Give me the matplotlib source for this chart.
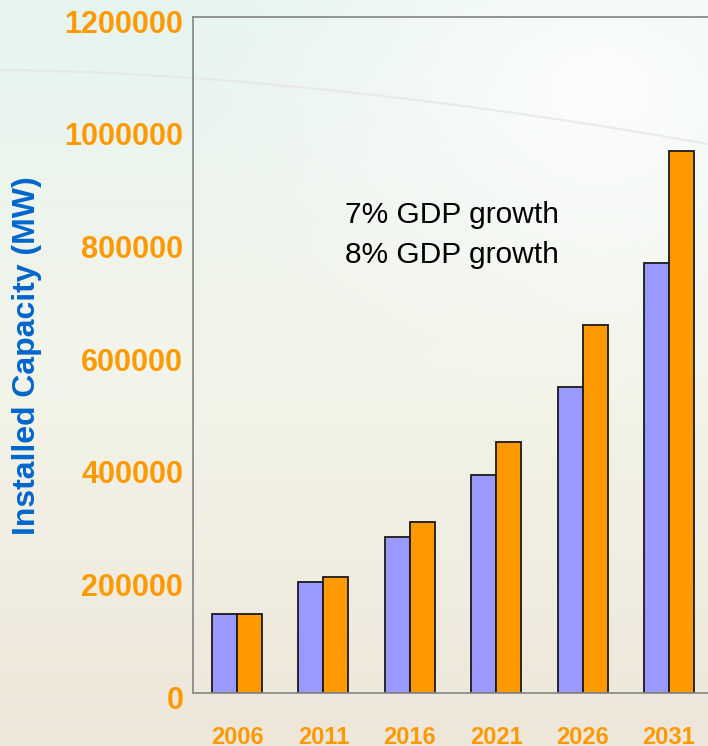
import numpy as np
import matplotlib
matplotlib.use('Agg')
import matplotlib.pyplot as plt
import matplotlib.transforms as mtransforms

# Data
years = ['2006', '2011', '2016', '2021', '2026', '2031']
gdp7 = [140000, 197000, 277000, 387000, 543000, 764000]  # MW, 7% GDP growth
gdp8 = [140000, 206000, 303000, 446000, 654000, 963000]  # MW, 8% GDP growth
series_labels = ['7% GDP growth', '8% GDP growth']
yticks = [0, 200000, 400000, 600000, 800000, 1000000, 1200000]

W, H = 708, 746
plt.rcParams['font.family'] = ['Liberation Sans', 'DejaVu Sans']
fig = plt.figure(figsize=(W/100, H/100), dpi=100)

# Background (soft gradient with a white glow, like the slide)
yy, xx = np.mgrid[0:H, 0:W]
t = yy/(H-1)
top = np.array([230, 244, 241])/255
mid = np.array([243, 244, 233])/255
bot = np.array([238, 230, 217])/255
w1 = np.clip(1-2*t, 0, 1)[..., None]
w3 = np.clip(2*t-1, 0, 1)[..., None]
w2 = 1-w1-w3
img = w1*top + w2*mid + w3*bot
d = np.sqrt(((xx-600)/420.0)**2 + ((yy-90)/330.0)**2)
glow = (np.clip(1-d, 0, 1)**1.2)[..., None]*0.85
img = img*(1-glow) + glow
bg = fig.add_axes([0, 0, 1, 1], zorder=-1)
bg.imshow(img, aspect='auto', extent=[0, W, H, 0])
sx = np.linspace(0, W, 200)
sy = 70 + 74*(sx/W)**1.7
bg.plot(sx, sy, color=(0.90, 0.89, 0.88), lw=1.5, alpha=0.7)
bg.set_xlim(0, W)
bg.set_ylim(H, 0)
bg.axis('off')

# Main axes
left, right, bottom, topp = 193, 730, 693, 17
ax = fig.add_axes([left/W, 1-bottom/H, (right-left)/W, (bottom-topp)/H])
ax.set_facecolor('none')
x = np.arange(len(years))
bw = 0.29
ax.bar(x-bw/2, gdp7, bw, color='#9999FF', edgecolor='#1a1a1a', linewidth=1.3, label=series_labels[0])
ax.bar(x+bw/2, gdp8, bw, color='#FF9900', edgecolor='#1a1a1a', linewidth=1.3, label=series_labels[1])

ax.set_xlim(-0.509, -0.509 + (right-left)/86.4)
ax.set_ylim(0, 1200000)
ax.set_xticks(x)
ax.set_xticklabels(years)
ax.set_yticks(yticks)
ax.set_yticklabels([str(v) for v in yticks])
ax.tick_params(axis='x', length=0, pad=24, labelsize=17, labelcolor='#FF9900')
ax.tick_params(axis='y', length=0, pad=7, labelsize=22, labelcolor='#FF9900')
for lab in ax.get_xticklabels() + ax.get_yticklabels():
    lab.set_fontweight('bold')
# y labels sit a few pixels below their gridline in the original
shift = mtransforms.ScaledTranslation(0, -3/72, fig.dpi_scale_trans)
for lab in ax.get_yticklabels():
    lab.set_transform(lab.get_transform() + shift)
for s in ['left', 'top', 'bottom']:
    ax.spines[s].set_color('#8c8c8c')
    ax.spines[s].set_linewidth(1.3)
ax.spines['right'].set_visible(False)

fig.text(27/W, 1-356/H, 'Installed Capacity (MW)', rotation=90, ha='center', va='center',
         fontsize=23, fontweight='bold', color='#0066CC')

leg = ax.legend(loc='upper left', bbox_to_anchor=(345/W, 1-201/H), bbox_transform=fig.transFigure,
                frameon=False, fontsize=21.5, handlelength=0, handletextpad=0,
                borderpad=0, borderaxespad=0, labelspacing=0.4)
for h in leg.legend_handles:
    h.set_visible(False)

fig.savefig('out.png', dpi=100)
